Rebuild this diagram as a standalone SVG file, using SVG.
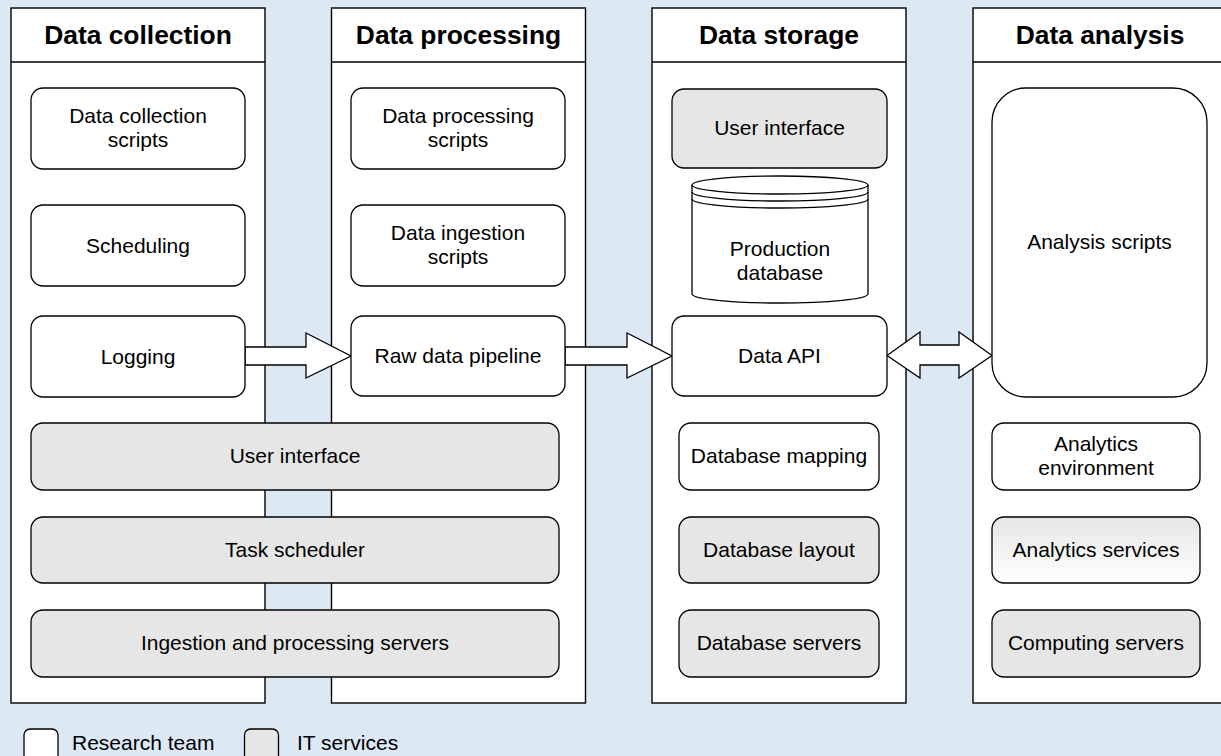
<svg xmlns="http://www.w3.org/2000/svg" width="1221" height="756" viewBox="0 0 1221 756">
<defs>
<linearGradient id="gsvc" x1="0" y1="0" x2="0" y2="1">
<stop offset="0" stop-color="#e6e6e6"/>
<stop offset="1" stop-color="#ffffff"/>
</linearGradient>
</defs>
<style>
.lane{fill:#fff;stroke:#000;stroke-width:1.4}
.hd{font-family:"Liberation Sans",Arial,sans-serif;font-weight:bold;font-size:26.4px;text-anchor:middle;fill:#000}
.n{stroke:#000;stroke-width:1.3}
.w{fill:#fff}
.g{fill:#e6e6e6}
.t{font-family:"Liberation Sans",Arial,sans-serif;font-size:21px;text-anchor:middle;fill:#000}
.lt{font-family:"Liberation Sans",Arial,sans-serif;font-size:21px;fill:#000}
.ar{fill:#fff;stroke:#000;stroke-width:1.3;stroke-linejoin:miter}
</style>
<rect x="0" y="0" width="1221" height="756" fill="#dde8f5"/>

<g id="lane-collection">
<rect class="lane" x="11" y="8" width="254" height="695"/>
<line x1="11" y1="62" x2="265" y2="62" stroke="#000" stroke-width="1.4"/>
<text class="hd" x="138" y="44">Data collection</text>
</g>
<g id="lane-processing">
<rect class="lane" x="331.5" y="8" width="254" height="695"/>
<line x1="331.5" y1="62" x2="585.5" y2="62" stroke="#000" stroke-width="1.4"/>
<text class="hd" x="458.5" y="44">Data processing</text>
</g>
<g id="lane-storage">
<rect class="lane" x="652" y="8" width="254" height="695"/>
<line x1="652" y1="62" x2="906" y2="62" stroke="#000" stroke-width="1.4"/>
<text class="hd" x="779" y="44">Data storage</text>
</g>
<g id="lane-analysis">
<rect class="lane" x="973" y="8" width="254" height="695"/>
<line x1="973" y1="62" x2="1227" y2="62" stroke="#000" stroke-width="1.4"/>
<text class="hd" x="1100" y="44">Data analysis</text>
</g>

<g id="connectors">
<polygon class="ar" points="245,347 306,347 306,333 351,356 306,378 306,365 245,365"/>
<polygon class="ar" points="565,347 627,347 627,333 672,356 627,378 627,365 565,365"/>
<polygon class="ar" points="887,355.5 920,332 920,345 959,345 959,332 992,355.5 959,378 959,365 920,365 920,378"/>
</g>

<g id="n-dc-scripts"><rect class="n w" x="31" y="88" width="214" height="81" rx="12"/><text class="t" x="138" y="123">Data collection</text><text class="t" x="138" y="147">scripts</text></g>
<g id="n-scheduling"><rect class="n w" x="31" y="205" width="214" height="81" rx="12"/><text class="t" x="138" y="253">Scheduling</text></g>
<g id="n-logging"><rect class="n w" x="31" y="316" width="214" height="81" rx="12"/><text class="t" x="138" y="364">Logging</text></g>

<g id="n-dp-scripts"><rect class="n w" x="351" y="88" width="214" height="81" rx="12"/><text class="t" x="458" y="123">Data processing</text><text class="t" x="458" y="147">scripts</text></g>
<g id="n-ingest-scripts"><rect class="n w" x="351" y="205" width="214" height="81" rx="12"/><text class="t" x="458" y="240">Data ingestion</text><text class="t" x="458" y="264">scripts</text></g>
<g id="n-raw"><rect class="n w" x="351" y="316" width="214" height="80" rx="12"/><text class="t" x="458" y="363">Raw data pipeline</text></g>

<g id="n-ui-wide"><rect class="n g" x="31" y="423" width="528" height="67" rx="12"/><text class="t" x="295" y="463">User interface</text></g>
<g id="n-task"><rect class="n g" x="31" y="517" width="528" height="66" rx="12"/><text class="t" x="295" y="557">Task scheduler</text></g>
<g id="n-servers"><rect class="n g" x="31" y="610" width="528" height="67" rx="12"/><text class="t" x="295" y="650">Ingestion and processing servers</text></g>

<g id="n-ui-storage"><rect class="n g" x="672" y="89" width="215" height="79" rx="12"/><text class="t" x="779.5" y="135">User interface</text></g>
<g id="n-proddb">
<path class="n w" d="M692,185 A88,9 0 0 1 868,185 L868,294 A88,9 0 0 1 692,294 Z"/>
<path fill="none" stroke="#000" stroke-width="1.3" d="M692,185 A88,9 0 0 0 868,185 M692,192 A88,9 0 0 0 868,192 M692,199 A88,9 0 0 0 868,199"/>
<text class="t" x="780" y="256">Production</text><text class="t" x="780" y="280">database</text>
</g>
<g id="n-api"><rect class="n w" x="672" y="316" width="215" height="80" rx="12"/><text class="t" x="779.5" y="363">Data API</text></g>
<g id="n-mapping"><rect class="n w" x="679" y="423" width="200" height="67" rx="12"/><text class="t" x="779" y="463">Database mapping</text></g>
<g id="n-layout"><rect class="n g" x="679" y="517" width="200" height="66" rx="12"/><text class="t" x="779" y="557">Database layout</text></g>
<g id="n-dbservers"><rect class="n g" x="679" y="610" width="200" height="67" rx="12"/><text class="t" x="779" y="650">Database servers</text></g>

<g id="n-analysis"><rect class="n w" x="992" y="88" width="215" height="309" rx="34"/><text class="t" x="1099.5" y="249">Analysis scripts</text></g>
<g id="n-env"><rect class="n w" x="992" y="423" width="208" height="67" rx="12"/><text class="t" x="1096" y="451">Analytics</text><text class="t" x="1096" y="475">environment</text></g>
<g id="n-svc"><rect class="n" fill="url(#gsvc)" x="992" y="517" width="208" height="66" rx="12"/><text class="t" x="1096" y="557">Analytics services</text></g>
<g id="n-computing"><rect class="n g" x="992" y="610" width="208" height="67" rx="12"/><text class="t" x="1096" y="650">Computing servers</text></g>

<g id="legend">
<rect class="n w" x="24" y="729" width="34" height="36" rx="6"/>
<text class="lt" x="72" y="750">Research team</text>
<rect class="n g" x="244.5" y="729" width="34" height="36" rx="6"/>
<text class="lt" x="297" y="750">IT services</text>
</g>
</svg>
